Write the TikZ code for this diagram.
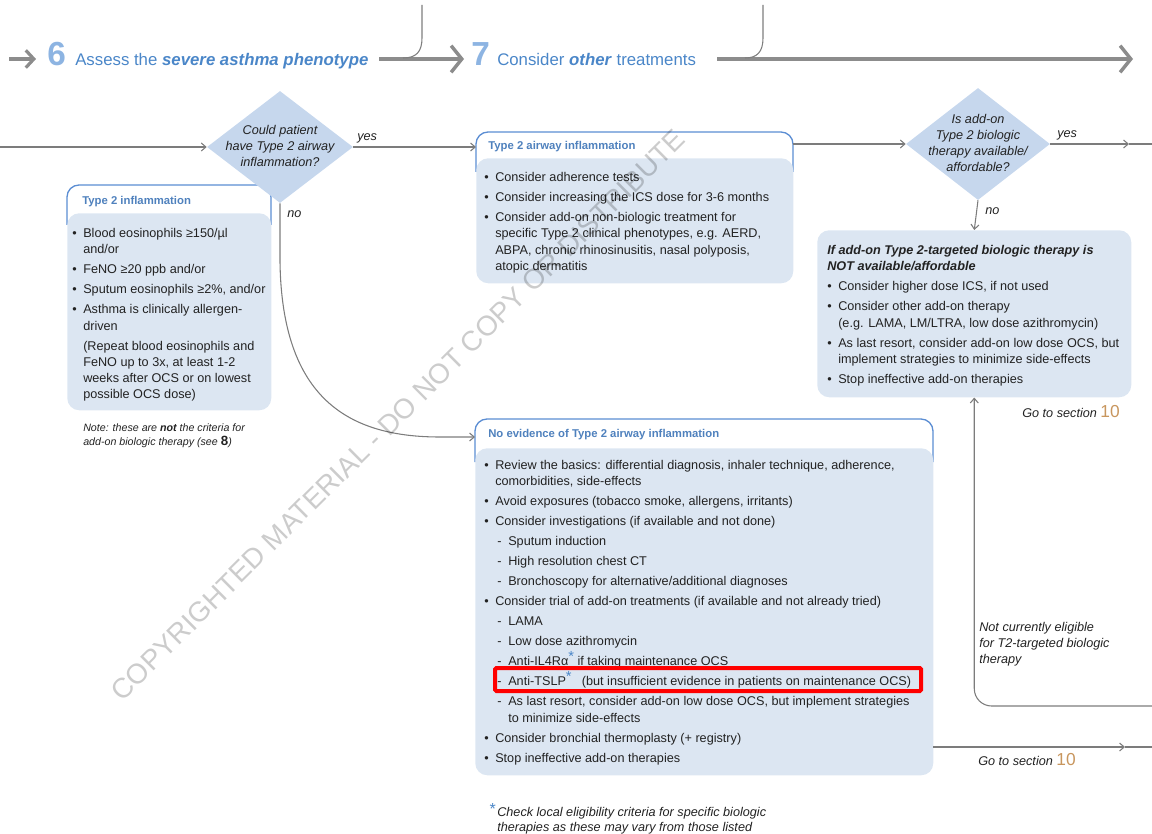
\documentclass[tikz,border=0pt]{standalone}
\usepackage{fontspec}
\setmainfont{Liberation Sans}
\usetikzlibrary{arrows.meta,shapes.geometric}
\definecolor{boxfill}{HTML}{DCE6F2}
\definecolor{diafill}{HTML}{C6D7ED}
\definecolor{boxline}{HTML}{5B8DD3}
\definecolor{titleblue}{HTML}{4F81BD}
\definecolor{headblue}{HTML}{4A86C8}
\definecolor{numblue}{HTML}{8DB4E2}
\definecolor{arrowgray}{HTML}{8C8C8C}
\definecolor{linegray}{HTML}{7C7C7C}
\definecolor{txt}{HTML}{222222}
\definecolor{secnum}{HTML}{C8965E}
\definecolor{redbox}{HTML}{FF0000}
\newcommand{\bul}{\makebox[8.25pt][l]{•}}
\newcommand{\dsh}{\hspace*{9.75pt}\makebox[8.25pt][l]{-}}
\newcommand{\ind}{\hspace*{8.25pt}}
\newcommand{\dind}{\hspace*{18pt}}
\newcommand{\bstar}{\smash{\raisebox{3pt}{\textcolor{headblue}{\fontsize{11}{11}\selectfont *}}}}
\newcommand{\gap}{\\[2.8pt]}
\begin{document}
\begin{tikzpicture}[x=0.75pt,y=-0.75pt,
  bodytext/.style={anchor=north west, inner sep=0pt, align=left, text=txt, font=\fontsize{9.5}{12.2}\selectfont},
  boxtitle/.style={anchor=base west, inner sep=0pt, text=titleblue, font=\fontsize{8.5}{10}\selectfont\bfseries},
  fillbox/.style={fill=boxfill, rounded corners=9pt, anchor=north west, inner sep=0pt},
  outlinebox/.style={draw=boxline, line width=1pt, rounded corners=9pt},
  conn/.style={draw=linegray, line width=0.8pt, -{Straight Barb[length=3.5pt,width=6pt]}},
  plainline/.style={draw=linegray, line width=0.8pt},
  harrow/.style={draw=arrowgray, line width=3.3pt, -{Straight Barb[length=8pt,width=20pt,line width=2.6pt]}},
  hook/.style={draw=arrowgray!90!black, line width=0.8pt},
  dia/.style={diamond, fill=diafill, inner sep=0pt},
  diatext/.style={inner sep=0pt, align=center, text=txt, font=\fontsize{9.5}{12}\selectfont\itshape},
  lbl/.style={anchor=base west, inner sep=0pt, text=txt, font=\fontsize{9.5}{11.8}\selectfont\itshape},
  headtext/.style={anchor=base west, inner sep=0pt, text=headblue, font=\fontsize{12.6}{14}\selectfont},
  headnum/.style={anchor=base west, inner sep=0pt, text=numblue, font=\fontsize{25}{25}\selectfont\bfseries},
]
\useasboundingbox (0,0) rectangle (1152,834);

% ---------- header ----------
\node[headnum] (n6) at (47,66) {6};
\node[headtext] (h6) at (75,66) {Assess the \textbf{\textit{severe asthma phenotype}}};
\node[headnum] (n7) at (471,66) {7};
\node[headtext] (h7) at (497,66) {Consider \textbf{\textit{other}} treatments};
\coordinate (a0s) at (9,59);   \coordinate (a0e) at (36,59);
\coordinate (a1s) at (379,59); \coordinate (a1e) at (464,59);
\coordinate (a2s) at (717,59); \coordinate (a2e) at (1133,59);
\draw[harrow, -{Straight Barb[length=6pt,width=13pt,line width=2.4pt]}] (a0s) -- (a0e);
\draw[harrow] (a1s) -- (a1e);
\draw[harrow] (a2s) -- (a2e);
\coordinate (hk1) at (422,5);
\coordinate (hk2) at (763,5);
\draw[hook] (hk1) -- (422,38) .. controls (422,52) and (416,58) .. (403,58);
\draw[hook] (hk2) -- (763,38) .. controls (763,52) and (757,58) .. (745,58);

% ---------- Type 2 inflammation box ----------
\draw[outlinebox] (67,225) -- (67,185) -- (271,185) -- (271,225);
\node[fillbox, minimum width=153pt, minimum height=147.75pt] (b1) at (67,213) {};
\node[boxtitle] (b1t) at (82,205) {Type 2 inflammation};
\node[bodytext] (b1x) at (72,226) {\strut\bul Blood eosinophils ≥150/µl\\
\ind and/or\gap
\bul FeNO ≥20 ppb and/or\gap
\bul Sputum eosinophils ≥2\%, and/or\gap
\bul Asthma is clinically allergen-\\
\ind driven\gap
\ind (Repeat blood eosinophils and\\
\ind FeNO up to 3x, at least 1-2\\
\ind weeks after OCS or on lowest\\
\ind possible OCS dose)};
\node[anchor=north west, inner sep=0pt, align=left, text=txt, font=\fontsize{8}{10.5}\selectfont\itshape] (note) at (83,421.2)
 {\strut Note: these are \textbf{not} the criteria for\\ add-on biologic therapy (see \textbf{\upshape\fontsize{10}{10}\selectfont 8})};

% ---------- Type 2 airway inflammation box ----------
\draw[outlinebox] (476,172) -- (476,132) -- (793,132) -- (793,172);
\node[fillbox, minimum width=237.75pt, minimum height=93.75pt] (b2) at (476,158) {};
\node[boxtitle] (b2t) at (488,150) {Type 2 airway inflammation};
\node[bodytext] (b2x) at (484,170) {\strut\bul Consider adherence tests\gap
\bul Consider increasing the ICS dose for 3-6 months\gap
\bul Consider add-on non-biologic treatment for\\
\ind specific Type 2 clinical phenotypes, e.g. AERD,\\
\ind ABPA, chronic rhinosinusitis, nasal polyposis,\\
\ind atopic dermatitis};

% ---------- No evidence box ----------
\draw[outlinebox] (475,462) -- (475,419) -- (933,419) -- (933,462);
\node[fillbox, minimum width=343.5pt, minimum height=245.25pt] (b3) at (475,448) {};
\node[boxtitle] (b3t) at (488,437) {No evidence of Type 2 airway inflammation};
\node[bodytext] (b3x) at (484,458) {\strut\bul Review the basics: differential diagnosis, inhaler technique, adherence,\\
\ind comorbidities, side-effects\gap
\bul Avoid exposures (tobacco smoke, allergens, irritants)\gap
\bul Consider investigations (if available and not done)\gap
\dsh Sputum induction\gap
\dsh High resolution chest CT\gap
\dsh Bronchoscopy for alternative/additional diagnoses\gap
\bul Consider trial of add-on treatments (if available and not already tried)\gap
\dsh LAMA\gap
\dsh Low dose azithromycin\gap
\dsh Anti-IL4Rα\bstar{} if taking maintenance OCS\gap
\dsh Anti-TSLP\bstar\hspace{5pt} (but insufficient evidence in patients on maintenance OCS)\gap
\dsh As last resort, consider add-on low dose OCS, but implement strategies\\
\dind to minimize side-effects\gap
\bul Consider bronchial thermoplasty (+ registry)\gap
\bul Stop ineffective add-on therapies};
\node[draw=redbox, line width=3pt, rounded corners=1pt, minimum width=319.5pt, minimum height=17.25pt, inner sep=0pt] (hl) at (708,679.5) {};

% ---------- Right box ----------
\node[fillbox, minimum width=235.5pt, minimum height=125.25pt] (b4) at (817,230) {};
\node[bodytext] (b4x) at (827,243) {\strut\textbf{\textit{If add-on Type 2-targeted biologic therapy is}}\\
\textbf{\textit{NOT available/affordable}}\gap
\bul Consider higher dose ICS, if not used\gap
\bul Consider other add-on therapy\\
\ind (e.g. LAMA, LM/LTRA, low dose azithromycin)\gap
\bul As last resort, consider add-on low dose OCS, but\\
\ind implement strategies to minimize side-effects\gap
\bul Stop ineffective add-on therapies};

% ---------- Diamonds ----------
\node[dia, minimum width=109.5pt, minimum height=84pt] (d1) at (280,147) {};
\node[diatext] (d1t) at (280,146) {Could patient\\ have Type 2 airway\\ inflammation?};
\node[dia, minimum width=108pt, minimum height=84pt] (d2) at (978,144) {};
\node[diatext] (d2t) at (978,143) {Is add-on\\ Type 2 biologic\\ therapy available/\\ affordable?};

% ---------- connectors ----------
\coordinate (lin) at (0,147);
\draw[conn] (lin) -- (d1.west);
\coordinate (b2in) at (476,147);
\draw[conn] (d1.east) -- (b2in);
\node[lbl] (yes1) at (357,141) {yes};
\coordinate (b3in) at (475,437);
\draw[conn] (d1.south) -- (280,262) .. controls (282,400) and (350,437) .. (440,437) -- (b3in);
\node[lbl] (no1) at (287,218) {no};

\coordinate (b2out) at (793,144);
\draw[conn] (b2out) -- (d2.west);
\coordinate (yes2a) at (1129,144);
\coordinate (yes2b) at (1152,144);
\draw[conn] (d2.east) -- (yes2a);
\draw[plainline] (yes2a) -- (yes2b);
\node[lbl] (yes2) at (1057,138) {yes};
\draw[conn] (d2.south) -- (b4.north);
\node[lbl] (no2) at (985,215) {no};

\coordinate (loopin) at (1152,706);
\draw[conn, rounded corners=13pt] (loopin) -| (b4.south);
\node[anchor=north west, inner sep=0pt, align=left, text=txt, font=\fontsize{9.5}{11.8}\selectfont\itshape] (nce) at (979,620.5)
 {\strut Not currently eligible\\ for T2-targeted biologic\\ therapy};

\coordinate (b3out) at (933,747);
\coordinate (go2a) at (1125,747);
\coordinate (go2b) at (1152,747);
\draw[conn] (b3out) -- (go2a);
\draw[plainline] (go2a) -- (go2b);

\node[anchor=base east, inner sep=0pt, text=txt, font=\fontsize{9.5}{11}\selectfont\itshape] (go1) at (1120,417)
 {Go to section \textcolor{secnum}{\upshape\fontsize{13}{13}\selectfont 10}};
\node[anchor=base west, inner sep=0pt, text=txt, font=\fontsize{9.5}{11}\selectfont\itshape] (go2) at (978,765)
 {Go to section \textcolor{secnum}{\upshape\fontsize{13}{13}\selectfont 10}};

% ---------- footnote ----------
\node[anchor=north west, inner sep=0pt, align=left, text=txt, font=\fontsize{9.5}{9.75}\selectfont\itshape] (foot) at (497,807.4)
 {\strut\llap{\smash{\raisebox{2pt}{\textcolor{headblue}{\upshape\fontsize{12}{12}\selectfont *}}}\hspace{1pt}}Check local eligibility criteria for specific biologic\\ therapies as these may vary from those listed};

% ---------- watermark ----------
\node[rotate=44.8, inner sep=0pt, text=black, text opacity=0.2, font=\fontsize{21}{21}\selectfont] (wm) at (398,415)
 {COPYRIGHTED MATERIAL - DO NOT COPY OR DISTRIBUTE};
\end{tikzpicture}
\end{document}
